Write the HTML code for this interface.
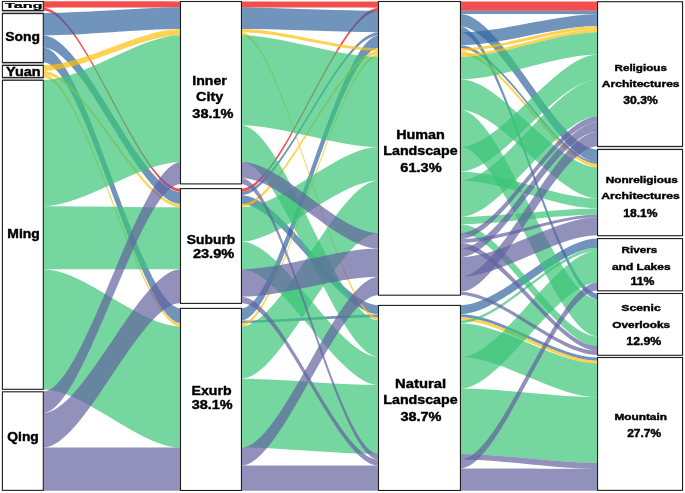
<!DOCTYPE html>
<html><head><meta charset="utf-8"><style>
html,body{margin:0;padding:0;background:#fff;}
body{width:685px;height:493px;overflow:hidden;}
svg{display:block;will-change:transform;}
text{font-family:"Liberation Sans",sans-serif;font-weight:bold;fill:#000;text-anchor:middle;stroke:#000;stroke-width:0.4px;}
</style></head><body>
<svg width="685" height="493" viewBox="0 0 685 493">
<rect width="685" height="493" fill="#fff"/>
<g fill-opacity="0.7">
<path fill="#EC0303" d="M43.1,1.3 C84.44,1.3 139.56,1.4 180.9,1.4 L180.9,7.6 C139.56,7.6 84.44,7.7 43.1,7.7 Z"/>
<path fill="#EC0303" d="M43.1,7.7 C84.44,7.7 139.56,188.8 180.9,188.8 L180.9,191.8 C139.56,191.8 84.44,10.5 43.1,10.5 Z"/>
<path fill="#EC0303" d="M241.1,1.5 C282.44,1.5 337.56,1.5 378.9,1.5 L378.9,7.7 C337.56,7.7 282.44,7.6 241.1,7.6 Z"/>
<path fill="#EC0303" d="M241.1,188.8 C282.44,188.8 337.56,7.7 378.9,7.7 L378.9,10.7 C337.56,10.7 282.44,191.8 241.1,191.8 Z"/>
<path fill="#EC0303" d="M460.1,1.4 C501.41,1.4 556.49,1.5 597.8,1.5 L597.8,10.7 C556.49,10.7 501.41,10.7 460.1,10.7 Z"/>
<path fill="#33669F" d="M43.1,13 C84.44,13 139.56,7.6 180.9,7.6 L180.9,29 C139.56,29 84.44,35.4 43.1,35.4 Z"/>
<path fill="#33669F" d="M43.1,35.4 C84.44,35.4 139.56,191.8 180.9,191.8 L180.9,204.1 C139.56,204.1 84.44,47.6 43.1,47.6 Z"/>
<path fill="#33669F" d="M43.1,47.6 C84.44,47.6 139.56,308.4 180.9,308.4 L180.9,323 C139.56,323 84.44,62.2 43.1,62.2 Z"/>
<path fill="#33669F" d="M241.1,7.6 C282.44,7.6 337.56,10.7 378.9,10.7 L378.9,32.3 C337.56,32.3 282.44,29 241.1,29 Z"/>
<path fill="#33669F" d="M241.1,191.8 C282.44,191.8 337.56,32.3 378.9,32.3 L378.9,35.6 C337.56,35.6 282.44,195.2 241.1,195.2 Z"/>
<path fill="#33669F" d="M241.1,195.2 C282.44,195.2 337.56,305.2 378.9,305.2 L378.9,314.3 C337.56,314.3 282.44,204.1 241.1,204.1 Z"/>
<path fill="#33669F" d="M241.1,308.4 C282.44,308.4 337.56,35.6 378.9,35.6 L378.9,48.2 C337.56,48.2 282.44,320.4 241.1,320.4 Z"/>
<path fill="#33669F" d="M241.1,320.4 C282.44,320.4 337.56,314.5 378.9,314.5 L378.9,317.3 C337.56,317.3 282.44,323 241.1,323 Z"/>
<path fill="#33669F" d="M460.1,10.7 C501.41,10.7 556.49,10.7 597.8,10.7 L597.8,14.2 C556.49,14.2 501.41,14 460.1,14 Z"/>
<path fill="#33669F" d="M460.1,14 C501.41,14 556.49,149.5 597.8,149.5 L597.8,162 C556.49,162 501.41,26.6 460.1,26.6 Z"/>
<path fill="#33669F" d="M460.1,26.6 C501.41,26.6 556.49,293.4 597.8,293.4 L597.8,299.2 C556.49,299.2 501.41,32.3 460.1,32.3 Z"/>
<path fill="#33669F" d="M460.1,32.3 C501.41,32.3 556.49,14.2 597.8,14.2 L597.8,26.1 C556.49,26.1 501.41,45.2 460.1,45.2 Z"/>
<path fill="#33669F" d="M460.1,45.2 C501.41,45.2 556.49,162 597.8,162 L597.8,164 C556.49,164 501.41,48.2 460.1,48.2 Z"/>
<path fill="#33669F" d="M460.1,305.2 C501.41,305.2 556.49,238.6 597.8,238.6 L597.8,247.8 C556.49,247.8 501.41,314.3 460.1,314.3 Z"/>
<path fill="#33669F" d="M460.1,314.3 C501.41,314.3 556.49,357.5 597.8,357.5 L597.8,360.8 C556.49,360.8 501.41,317.3 460.1,317.3 Z"/>
<path fill="#FDC00A" d="M43.1,65.2 C84.44,65.2 139.56,29 180.9,29 L180.9,35.3 C139.56,35.3 84.44,70.9 43.1,70.9 Z"/>
<path fill="#FDC00A" d="M43.1,70.9 C84.44,70.9 139.56,204.1 180.9,204.1 L180.9,207.3 C139.56,207.3 84.44,74.2 43.1,74.2 Z"/>
<path fill="#FDC00A" d="M43.1,74.2 C84.44,74.2 139.56,323 180.9,323 L180.9,326.4 C139.56,326.4 84.44,77.4 43.1,77.4 Z"/>
<path fill="#FDC00A" d="M241.1,29 C282.44,29 337.56,48.2 378.9,48.2 L378.9,51.1 C337.56,51.1 282.44,32.3 241.1,32.3 Z"/>
<path fill="#FDC00A" d="M241.1,32.3 C282.44,32.3 337.56,317.3 378.9,317.3 L378.9,320.4 C337.56,320.4 282.44,35.3 241.1,35.3 Z"/>
<path fill="#FDC00A" d="M241.1,204.1 C282.44,204.1 337.56,51.1 378.9,51.1 L378.9,54 C337.56,54 282.44,207.3 241.1,207.3 Z"/>
<path fill="#FDC00A" d="M241.1,323 C282.44,323 337.56,54 378.9,54 L378.9,56.8 C337.56,56.8 282.44,326.4 241.1,326.4 Z"/>
<path fill="#FDC00A" d="M460.1,48.2 C501.41,48.2 556.49,26.1 597.8,26.1 L597.8,29.2 C556.49,29.2 501.41,51.1 460.1,51.1 Z"/>
<path fill="#FDC00A" d="M460.1,51.1 C501.41,51.1 556.49,164 597.8,164 L597.8,167.3 C556.49,167.3 501.41,54 460.1,54 Z"/>
<path fill="#FDC00A" d="M460.1,54 C501.41,54 556.49,29.2 597.8,29.2 L597.8,32.3 C556.49,32.3 501.41,56.8 460.1,56.8 Z"/>
<path fill="#FDC00A" d="M460.1,317.3 C501.41,317.3 556.49,360.8 597.8,360.8 L597.8,363.6 C556.49,363.6 501.41,320.5 460.1,320.5 Z"/>
<path fill="#3BC477" d="M43.1,80 C84.44,80 139.56,35.3 180.9,35.3 L180.9,162 C139.56,162 84.44,206.2 43.1,206.2 Z"/>
<path fill="#3BC477" d="M43.1,206.2 C84.44,206.2 139.56,207.3 180.9,207.3 L180.9,269.2 C139.56,269.2 84.44,269.2 43.1,269.2 Z"/>
<path fill="#3BC477" d="M43.1,269.2 C84.44,269.2 139.56,326.4 180.9,326.4 L180.9,447.6 C139.56,447.6 84.44,389.5 43.1,389.5 Z"/>
<path fill="#3BC477" d="M241.1,35.3 C282.44,35.3 337.56,56.8 378.9,56.8 L378.9,147 C337.56,147 282.44,125.3 241.1,125.3 Z"/>
<path fill="#3BC477" d="M241.1,125.3 C282.44,125.3 337.56,320.4 378.9,320.4 L378.9,356.8 C337.56,356.8 282.44,162 241.1,162 Z"/>
<path fill="#3BC477" d="M241.1,207.3 C282.44,207.3 337.56,147 378.9,147 L378.9,180.5 C337.56,180.5 282.44,241.4 241.1,241.4 Z"/>
<path fill="#3BC477" d="M241.1,241.4 C282.44,241.4 337.56,356.8 378.9,356.8 L378.9,385 C337.56,385 282.44,269.2 241.1,269.2 Z"/>
<path fill="#3BC477" d="M241.1,326.4 C282.44,326.4 337.56,180.5 378.9,180.5 L378.9,233.1 C337.56,233.1 282.44,378.8 241.1,378.8 Z"/>
<path fill="#3BC477" d="M241.1,378.8 C282.44,378.8 337.56,385 378.9,385 L378.9,454 C337.56,454 282.44,447.6 241.1,447.6 Z"/>
<path fill="#3BC477" d="M460.1,56.8 C501.41,56.8 556.49,32.3 597.8,32.3 L597.8,54.5 C556.49,54.5 501.41,79.3 460.1,79.3 Z"/>
<path fill="#3BC477" d="M460.1,79.3 C501.41,79.3 556.49,167.3 597.8,167.3 L597.8,198.3 C556.49,198.3 501.41,110.1 460.1,110.1 Z"/>
<path fill="#3BC477" d="M460.1,110.1 C501.41,110.1 556.49,299.2 597.8,299.2 L597.8,336.5 C556.49,336.5 501.41,147 460.1,147 Z"/>
<path fill="#3BC477" d="M460.1,147 C501.41,147 556.49,54.5 597.8,54.5 L597.8,79.6 C556.49,79.6 501.41,171.4 460.1,171.4 Z"/>
<path fill="#3BC477" d="M460.1,171.4 C501.41,171.4 556.49,198.3 597.8,198.3 L597.8,208.4 C556.49,208.4 501.41,180.5 460.1,180.5 Z"/>
<path fill="#3BC477" d="M460.1,180.5 C501.41,180.5 556.49,79.6 597.8,79.6 L597.8,116.2 C556.49,116.2 501.41,216.8 460.1,216.8 Z"/>
<path fill="#3BC477" d="M460.1,216.8 C501.41,216.8 556.49,208.4 597.8,208.4 L597.8,214.5 C556.49,214.5 501.41,224.1 460.1,224.1 Z"/>
<path fill="#3BC477" d="M460.1,224.1 C501.41,224.1 556.49,336.5 597.8,336.5 L597.8,346.1 C556.49,346.1 501.41,233.1 460.1,233.1 Z"/>
<path fill="#3BC477" d="M460.1,320.5 C501.41,320.5 556.49,247.8 597.8,247.8 L597.8,250.8 C556.49,250.8 501.41,323.2 460.1,323.2 Z"/>
<path fill="#3BC477" d="M460.1,323.2 C501.41,323.2 556.49,363.6 597.8,363.6 L597.8,397.2 C556.49,397.2 501.41,357.1 460.1,357.1 Z"/>
<path fill="#3BC477" d="M460.1,357.1 C501.41,357.1 556.49,250.8 597.8,250.8 L597.8,282.4 C556.49,282.4 501.41,388.5 460.1,388.5 Z"/>
<path fill="#3BC477" d="M460.1,388.5 C501.41,388.5 556.49,397.2 597.8,397.2 L597.8,463 C556.49,463 501.41,454 460.1,454 Z"/>
<path fill="#63639F" d="M43.1,391.5 C84.44,391.5 139.56,162 180.9,162 L180.9,184 C139.56,184 84.44,413 43.1,413 Z"/>
<path fill="#63639F" d="M43.1,413 C84.44,413 139.56,269.2 180.9,269.2 L180.9,303 C139.56,303 84.44,447.6 43.1,447.6 Z"/>
<path fill="#63639F" d="M43.1,447.6 C84.44,447.6 139.56,447.6 180.9,447.6 L180.9,490.8 C139.56,490.8 84.44,490.8 43.1,490.8 Z"/>
<path fill="#63639F" d="M241.1,162 C282.44,162 337.56,233.1 378.9,233.1 L378.9,248.6 C337.56,248.6 282.44,178 241.1,178 Z"/>
<path fill="#63639F" d="M241.1,178 C282.44,178 337.56,454 378.9,454 L378.9,459.6 C337.56,459.6 282.44,184 241.1,184 Z"/>
<path fill="#63639F" d="M241.1,269.2 C282.44,269.2 337.56,248.6 378.9,248.6 L378.9,276.8 C337.56,276.8 282.44,296.8 241.1,296.8 Z"/>
<path fill="#63639F" d="M241.1,296.8 C282.44,296.8 337.56,459.6 378.9,459.6 L378.9,465.6 C337.56,465.6 282.44,303 241.1,303 Z"/>
<path fill="#63639F" d="M241.1,447.6 C282.44,447.6 337.56,276.8 378.9,276.8 L378.9,294.9 C337.56,294.9 282.44,465.6 241.1,465.6 Z"/>
<path fill="#63639F" d="M241.1,465.6 C282.44,465.6 337.56,465.6 378.9,465.6 L378.9,490.8 C337.56,490.8 282.44,490.8 241.1,490.8 Z"/>
<path fill="#63639F" d="M460.1,233.1 C501.41,233.1 556.49,116.2 597.8,116.2 L597.8,122.3 C556.49,122.3 501.41,239.2 460.1,239.2 Z"/>
<path fill="#63639F" d="M460.1,239.2 C501.41,239.2 556.49,214.5 597.8,214.5 L597.8,217.3 C556.49,217.3 501.41,242.8 460.1,242.8 Z"/>
<path fill="#63639F" d="M460.1,242.8 C501.41,242.8 556.49,346.1 597.8,346.1 L597.8,351 C556.49,351 501.41,248.6 460.1,248.6 Z"/>
<path fill="#63639F" d="M460.1,248.6 C501.41,248.6 556.49,122.3 597.8,122.3 L597.8,131.8 C556.49,131.8 501.41,257.2 460.1,257.2 Z"/>
<path fill="#63639F" d="M460.1,257.2 C501.41,257.2 556.49,217.3 597.8,217.3 L597.8,235.2 C556.49,235.2 501.41,276.8 460.1,276.8 Z"/>
<path fill="#63639F" d="M460.1,276.8 C501.41,276.8 556.49,131.8 597.8,131.8 L597.8,146.3 C556.49,146.3 501.41,291.8 460.1,291.8 Z"/>
<path fill="#63639F" d="M460.1,291.8 C501.41,291.8 556.49,351 597.8,351 L597.8,355 C556.49,355 501.41,294.9 460.1,294.9 Z"/>
<path fill="#63639F" d="M460.1,454 C501.41,454 556.49,463 597.8,463 L597.8,468.9 C556.49,468.9 501.41,459.5 460.1,459.5 Z"/>
<path fill="#63639F" d="M460.1,459.5 C501.41,459.5 556.49,282.4 597.8,282.4 L597.8,290.6 C556.49,290.6 501.41,468.5 460.1,468.5 Z"/>
<path fill="#63639F" d="M460.1,468.5 C501.41,468.5 556.49,468.9 597.8,468.9 L597.8,490.8 C556.49,490.8 501.41,490.8 460.1,490.8 Z"/>
</g>
<rect x="1.9" y="10.95" width="41.9" height="2.15" fill="#b0b0b0"/>
<rect x="1.9" y="62.95" width="41.9" height="2.05" fill="#b0b0b0"/>
<rect x="1.9" y="77.9" width="41.9" height="1.9" fill="#b0b0b0"/>
<rect x="597.05" y="146.9" width="86" height="2.1" fill="#dcdcdc"/>
<rect x="2.4" y="1.5" width="40.9" height="8.95" fill="#fff" stroke="#1e1e1e" stroke-width="1.1"/>
<rect x="2.4" y="13.6" width="40.9" height="48.85" fill="#fff" stroke="#1e1e1e" stroke-width="1.1"/>
<rect x="2.4" y="65.5" width="40.9" height="11.9" fill="#fff" stroke="#1e1e1e" stroke-width="1.1"/>
<rect x="2.4" y="80.3" width="40.9" height="309" fill="#fff" stroke="#1e1e1e" stroke-width="1.1"/>
<rect x="2.4" y="391.8" width="40.9" height="98.55" fill="#fff" stroke="#1e1e1e" stroke-width="1.1"/>
<rect x="180.5" y="1.5" width="60.95" height="182.4" fill="#fff" stroke="#1e1e1e" stroke-width="1.1"/>
<rect x="180.5" y="188.6" width="60.95" height="114.8" fill="#fff" stroke="#1e1e1e" stroke-width="1.1"/>
<rect x="180.5" y="308.4" width="60.95" height="182.05" fill="#fff" stroke="#1e1e1e" stroke-width="1.1"/>
<rect x="378.5" y="1.5" width="81.95" height="293.7" fill="#fff" stroke="#1e1e1e" stroke-width="1.1"/>
<rect x="378.5" y="305.4" width="81.95" height="185.05" fill="#fff" stroke="#1e1e1e" stroke-width="1.1"/>
<rect x="597.55" y="1.7" width="85" height="144.7" fill="#fff" stroke="#1e1e1e" stroke-width="1.1"/>
<rect x="597.55" y="149.5" width="85" height="86.2" fill="#fff" stroke="#1e1e1e" stroke-width="1.1"/>
<rect x="597.55" y="238.6" width="85" height="52.2" fill="#fff" stroke="#1e1e1e" stroke-width="1.1"/>
<rect x="597.55" y="293.5" width="85" height="61.8" fill="#fff" stroke="#1e1e1e" stroke-width="1.1"/>
<rect x="597.55" y="357.5" width="85" height="132.85" fill="#fff" stroke="#1e1e1e" stroke-width="1.1"/>
<text transform="translate(23.75,7.5) scale(1.306,0.545)" font-size="12.4">Tang</text>
<text transform="translate(22.67,40.7) scale(1.157,1.000)" font-size="12">Song</text>
<text transform="translate(23.41,75.7) scale(1.210,1.000)" font-size="12">Yuan</text>
<text transform="translate(23.56,237.9) scale(1.161,1.000)" font-size="12">Ming</text>
<text transform="translate(23.05,441) scale(1.154,1.000)" font-size="12">Qing</text>
<text transform="translate(209.5,84.5) scale(1.140,1.000)" font-size="12.4">Inner</text>
<text transform="translate(209.64,100.9) scale(1.160,1.000)" font-size="12.4">City</text>
<text transform="translate(212.92,118) scale(1.172,1.000)" font-size="12.4">38.1%</text>
<text transform="translate(211.04,243.8) scale(1.119,1.000)" font-size="12.4">Suburb</text>
<text transform="translate(213.54,257.7) scale(1.176,1.000)" font-size="12.4">23.9%</text>
<text transform="translate(211.55,394.8) scale(1.138,1.000)" font-size="12.4">Exurb</text>
<text transform="translate(212.11,409) scale(1.165,1.000)" font-size="12.4">38.1%</text>
<text transform="translate(420.53,139) scale(1.209,1.000)" font-size="11.9">Human</text>
<text transform="translate(420.44,155) scale(1.196,1.000)" font-size="11.9">Landscape</text>
<text transform="translate(420.93,171.5) scale(1.226,1.000)" font-size="11.9">61.3%</text>
<text transform="translate(420.52,387.7) scale(1.248,1.000)" font-size="11.9">Natural</text>
<text transform="translate(420.44,404) scale(1.196,1.000)" font-size="11.9">Landscape</text>
<text transform="translate(420.92,420.8) scale(1.218,1.000)" font-size="11.9">38.7%</text>
<text transform="translate(640.7,70.6) scale(1.240,1.000)" font-size="9.4">Religious</text>
<text transform="translate(640.68,87.3) scale(1.286,1.000)" font-size="9.4">Architectures</text>
<text transform="translate(640.52,104) scale(1.191,1.000)" font-size="10.2">30.3%</text>
<text transform="translate(641.72,182.9) scale(1.256,1.000)" font-size="9.4">Nonreligious</text>
<text transform="translate(640.52,199) scale(1.298,1.000)" font-size="9.4">Architectures</text>
<text transform="translate(640.37,216.8) scale(1.182,1.000)" font-size="10.2">18.1%</text>
<text transform="translate(639.38,253.3) scale(1.243,1.000)" font-size="9.4">Rivers</text>
<text transform="translate(641.28,270.3) scale(1.279,1.000)" font-size="9.4">and Lakes</text>
<text transform="translate(642.44,285.3) scale(1.203,1.000)" font-size="10.2">11%</text>
<text transform="translate(641.01,311.4) scale(1.301,1.000)" font-size="9.4">Scenic</text>
<text transform="translate(641.24,328) scale(1.260,1.000)" font-size="9.4">Overlooks</text>
<text transform="translate(643.75,345.2) scale(1.206,1.000)" font-size="10.2">12.9%</text>
<text transform="translate(640.67,420.1) scale(1.259,1.000)" font-size="9.4">Mountain</text>
<text transform="translate(644.18,436.8) scale(1.177,1.000)" font-size="10.2">27.7%</text>
</svg>
</body></html>
